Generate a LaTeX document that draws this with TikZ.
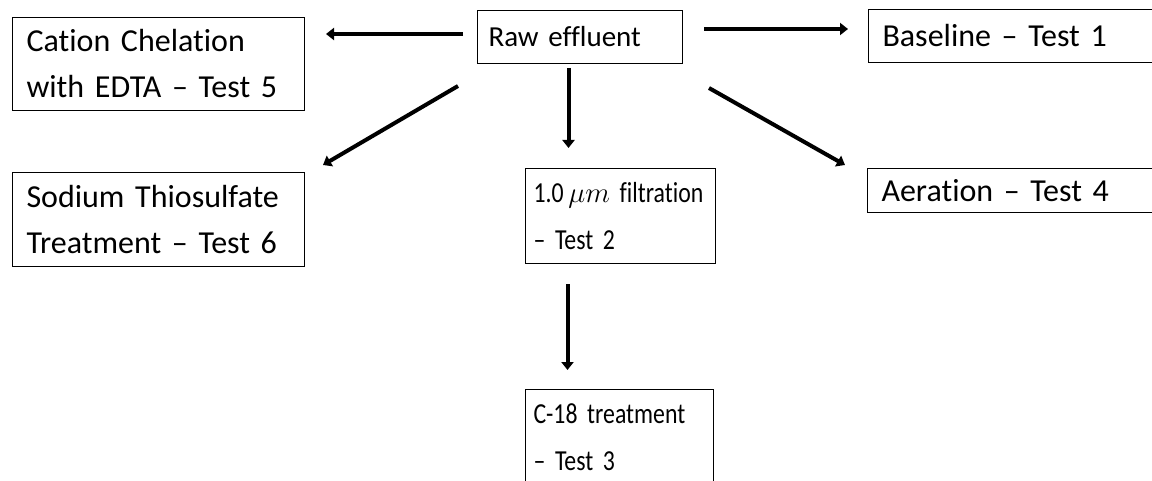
\documentclass[tikz,border=0pt]{standalone}
\usepackage{fontspec}
\setmainfont{Carlito}[Ligatures={TeX,NoCommon}]
\newfontfamily\narrowfont{Carlito}[FakeStretch=0.82,Ligatures={TeX,NoCommon}]
\usetikzlibrary{arrows.meta}
\tikzset{
  testbox/.style={draw,line width=0.5pt,rectangle,anchor=north west,align=left,
    inner xsep=7pt,inner ysep=0pt,font=\fontsize{16}{23}\selectfont},
  midbox/.style={testbox,inner xsep=4pt,font=\narrowfont\fontsize{14.5}{23.5}\selectfont},
  flow/.style={line width=2pt,-{Triangle[length=4pt,width=6pt]}}
}
\begin{document}
\begin{tikzpicture}[x=0.5pt,y=-0.5pt]
\useasboundingbox (0,0) rectangle (1152,481);
\node[testbox,text width=132pt,minimum height=46.5pt] (cation) at (12,17) {Cation Chelation\\with EDTA -- Test 5};
\node[testbox,font=\fontsize{14.5}{20}\selectfont,inner xsep=5.5pt,text width=91.5pt,minimum height=26.5pt] (raw) at (477,10) {Raw effluent};
\node[testbox,text width=132pt,minimum height=26.5pt] (baseline) at (868,9) {Baseline -- Test 1};
\node[testbox,text width=132pt,minimum height=47pt] (sodium) at (12,172) {Sodium Thiosulfate\\Treatment -- Test 6};
\node[midbox,text width=87pt,minimum height=47.5pt] (filtration) at (525,168) {1.0\,$\mu m$ filtration\\-- Test 2};
\node[testbox,text width=132.5pt,minimum height=22pt] (aeration) at (867,168) {Aeration -- Test 4};
\node[midbox,text width=86pt,minimum height=47.5pt] (ctreat) at (525,389) {C-18 treatment\\-- Test 3};
\draw[flow,shorten <=7pt,shorten >=10.5pt] ([shift={(0,-3)}]raw.west) -- ([shift={(0,-3)}]raw.west -| cation.east);
\draw[flow,shorten <=10.5pt,shorten >=10pt] ([shift={(0,-8)}]raw.east) -- ([shift={(0,-8)}]raw.east -| baseline.west);
\draw[flow] ([shift={(-19,22)}]raw.south west) -- ([shift={(18,-7)}]sodium.north east);
\draw[flow] ([shift={(26,24)}]raw.south east) -- ([shift={(-22,-3)}]aeration.north west);
\draw[flow,shorten <=2pt,shorten >=10pt] ([shift={(-11.5,0)}]raw.south) -- ([shift={(-11.5,0)}]raw.south |- filtration.north);
\draw[flow,shorten <=10pt,shorten >=9.5pt] ([shift={(-53,0)}]filtration.south) -- ([shift={(-53,0)}]filtration.south |- ctreat.north);
\end{tikzpicture}
\end{document}
